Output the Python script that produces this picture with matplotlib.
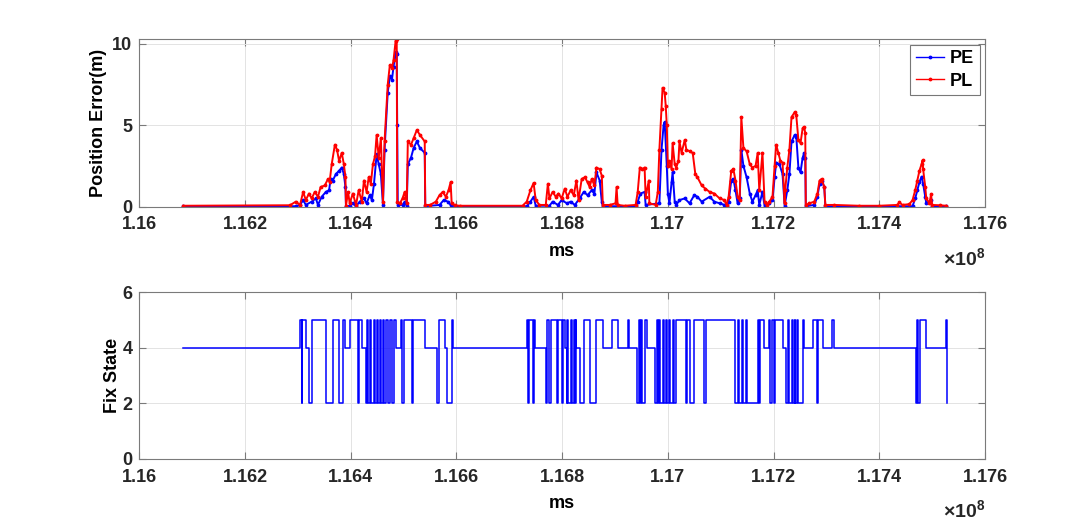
import matplotlib
matplotlib.use('Agg')
import matplotlib.pyplot as plt
import numpy as np
from matplotlib.ticker import FuncFormatter

plt.rcParams['font.family'] = ['Liberation Sans', 'DejaVu Sans']
plt.rcParams['font.weight'] = 'bold'
plt.rcParams['mathtext.fontset'] = 'custom'
plt.rcParams['mathtext.rm'] = 'Liberation Sans'
plt.rcParams['mathtext.bf'] = 'Liberation Sans:bold'

# time axis in units of 1e8 ms
pe_t = [1.16083, 1.16296, 1.16304, 1.16310, 1.16315, 1.16326, 1.16334, 1.16338,
        1.16345, 1.16353, 1.16359, 1.16362, 1.16366, 1.16372, 1.16378, 1.16383,
        1.16387, 1.16390, 1.16391, 1.16398, 1.16404, 1.16410, 1.16417, 1.16425,
        1.16430, 1.16436, 1.16440, 1.16444, 1.16449, 1.16453, 1.16457, 1.16461,
        1.16464, 1.16470, 1.16474, 1.16478, 1.16481, 1.16485, 1.16487, 1.16488,
        1.16489, 1.16498, 1.16502, 1.16506, 1.16508, 1.16514, 1.16519, 1.16525,
        1.16531, 1.16540, 1.16541, 1.16568, 1.16576, 1.16584, 1.16589, 1.16597,
        1.16733, 1.16740, 1.16746, 1.16750, 1.16776, 1.16782, 1.16792, 1.16799,
        1.16809, 1.16816, 1.16824, 1.16833, 1.16841, 1.16848, 1.16856, 1.16861,
        1.16865, 1.16871, 1.16875, 1.16877, 1.16939, 1.16943, 1.16948, 1.16956,
        1.16958, 1.16984, 1.16988, 1.16992, 1.16994, 1.16998, 1.17000, 1.17003,
        1.17007, 1.17009, 1.17013, 1.17016, 1.17022, 1.17032, 1.17041, 1.17050,
        1.17056, 1.17064, 1.17079, 1.17088, 1.17098, 1.17107, 1.17111, 1.17115,
        1.17120, 1.17124, 1.17128, 1.17132, 1.17136, 1.17139, 1.17143, 1.17149,
        1.17155, 1.17160, 1.17166, 1.17170, 1.17173, 1.17179, 1.17183, 1.17192,
        1.17198, 1.17202, 1.17205, 1.17211, 1.17217, 1.17221, 1.17226, 1.17230,
        1.17234, 1.17240, 1.17243, 1.17247, 1.17251, 1.17255, 1.17258, 1.17260,
        1.17261, 1.17277, 1.17283, 1.17287, 1.17291, 1.17296, 1.17298, 1.17463,
        1.17468, 1.17472, 1.17476, 1.17480, 1.17483, 1.17487, 1.17489, 1.17498,
        1.17500, 1.17527]
pe_v = [0.02, 0.02, 0.1, 0.4, 0.1, 0.3, 0.5, 0.1,
        0.6, 0.9, 1.0, 1.7, 1.6, 2.0, 2.2, 2.4,
        2.0, 1.2, 0.02, 0.05, 0.2, 0.02, 0.3, 0.5,
        0.2, 0.7, 0.4, 1.4, 3.2, 2.6, 2.0, 0.1,
        3.5, 7.0, 8.0, 7.8, 8.6, 9.5, 9.4, 5.0,
        0.1, 0.1, 0.3, 0.05, 2.6, 3.0, 3.6, 4.0,
        3.6, 3.3, 0.02, 0.1, 0.4, 0.3, 0.1, 0.02,
        0.02, 0.3, 0.6, 0.05, 0.05, 0.3, 0.1, 0.4,
        0.2, 0.3, 0.1, 0.5, 0.9, 0.7, 1.0, 0.8,
        2.1, 1.6, 0.3, 0.02, 0.02, 0.3, 0.8, 0.9,
        0.1, 0.2, 3.5, 5.0, 5.2, 2.5, 0.8, 0.2,
        1.5, 2.1, 0.3, 0.1, 0.4, 0.5, 0.2, 0.7,
        0.6, 0.3, 0.6, 0.3, 0.2, 0.1, 0.02, 0.3,
        1.6, 1.7, 1.0, 0.2, 0.5, 3.5, 2.5, 1.8,
        0.8, 0.3, 0.7, 1.0, 0.1, 0.9, 0.05, 0.2,
        0.4, 1.8, 2.7, 2.6, 2.0, 0.05, 1.0, 2.0,
        4.0, 4.4, 4.3, 2.4, 2.1, 3.0, 3.3, 3.0,
        0.02, 0.1, 0.6, 1.4, 1.6, 1.2, 0.02, 0.02,
        0.5, 1.0, 1.5, 1.84, 1.4, 0.6, 0.2, 0.4,
        0.02, 0.02]

pl_t = [1.16083, 1.16285, 1.16296, 1.16304, 1.16310, 1.16315, 1.16321, 1.16326,
        1.16332, 1.16338, 1.16343, 1.16351, 1.16357, 1.16360, 1.16364, 1.16370,
        1.16374, 1.16378, 1.16383, 1.16387, 1.16390, 1.16391, 1.16395, 1.16398,
        1.16404, 1.16410, 1.16415, 1.16421, 1.16425, 1.16430, 1.16434, 1.16438,
        1.16442, 1.16446, 1.16449, 1.16453, 1.16457, 1.16461, 1.16464, 1.16470,
        1.16474, 1.16478, 1.16481, 1.16485, 1.16487, 1.16488, 1.16493, 1.16498,
        1.16502, 1.16506, 1.16508, 1.16514, 1.16519, 1.16525, 1.16531, 1.16540,
        1.16541, 1.16550, 1.16561, 1.16568, 1.16574, 1.16580, 1.16585, 1.16589,
        1.16591, 1.16597, 1.16606, 1.16725, 1.16733, 1.16740, 1.16746, 1.16750,
        1.16757, 1.16769, 1.16773, 1.16776, 1.16782, 1.16788, 1.16793, 1.16799,
        1.16805, 1.16810, 1.16816, 1.16822, 1.16827, 1.16831, 1.16837, 1.16843,
        1.16848, 1.16852, 1.16856, 1.16861, 1.16865, 1.16871, 1.16875, 1.16877,
        1.16890, 1.16901, 1.16903, 1.16905, 1.16918, 1.16939, 1.16943, 1.16947,
        1.16952, 1.16956, 1.16958, 1.16964, 1.16965, 1.16977, 1.16981, 1.16984,
        1.16988, 1.16990, 1.16994, 1.16996, 1.16998, 1.17000, 1.17003, 1.17007,
        1.17009, 1.17013, 1.17016, 1.17020, 1.17022, 1.17026, 1.17032, 1.17035,
        1.17041, 1.17047, 1.17052, 1.17056, 1.17064, 1.17071, 1.17079, 1.17088,
        1.17098, 1.17107, 1.17111, 1.17115, 1.17120, 1.17124, 1.17128, 1.17132,
        1.17136, 1.17139, 1.17143, 1.17149, 1.17155, 1.17160, 1.17166, 1.17170,
        1.17173, 1.17179, 1.17183, 1.17187, 1.17192, 1.17198, 1.17202, 1.17205,
        1.17209, 1.17213, 1.17217, 1.17221, 1.17222, 1.17226, 1.17230, 1.17234,
        1.17240, 1.17243, 1.17247, 1.17251, 1.17255, 1.17258, 1.17260, 1.17261,
        1.17268, 1.17277, 1.17283, 1.17287, 1.17291, 1.17296, 1.17298, 1.17315,
        1.17362, 1.17400, 1.17434, 1.17438, 1.17444, 1.17457, 1.17463, 1.17468,
        1.17472, 1.17476, 1.17480, 1.17482, 1.17483, 1.17487, 1.17489, 1.17495,
        1.17498, 1.17500, 1.17514, 1.17527]
pl_v = [0.05, 0.08, 0.3, 0.1, 0.9, 0.4, 0.8, 0.5,
        0.9, 0.6, 1.2, 1.3, 1.7, 1.5, 2.6, 3.8,
        3.5, 2.8, 3.3, 2.6, 1.8, 0.05, 0.9, 0.2,
        0.8, 0.1, 1.0, 0.3, 1.6, 0.9, 1.8, 1.4,
        2.6, 3.1, 4.4, 3.0, 4.2, 0.3, 4.0, 7.5,
        8.7, 8.5, 9.0, 10.2, 10.29, 0.3, 0.2, 0.5,
        0.9, 0.2, 4.0, 3.8, 4.2, 4.7, 4.4, 4.0,
        0.1, 0.1, 0.3, 0.7, 0.9, 0.6, 1.0, 1.5,
        0.2, 0.08, 0.05, 0.05, 0.3, 1.0, 1.45, 0.4,
        0.1, 0.1, 1.4, 0.5, 0.9, 0.6, 0.8, 0.5,
        1.1, 0.6, 1.0, 0.7, 1.6, 0.4, 1.7, 1.8,
        1.5, 1.2, 1.7, 1.3, 2.4, 2.3, 1.9, 0.1,
        0.1, 0.2, 1.2, 0.1, 0.05, 0.1, 0.9, 2.4,
        2.3, 2.4, 0.6, 1.6, 0.2, 0.1, 0.9, 3.5,
        6.0, 7.3, 7.0, 6.2, 5.0, 2.5, 2.8, 2.3,
        3.9, 2.6, 2.4, 2.8, 4.0, 3.3, 4.1, 3.5,
        3.4, 3.3, 2.0, 1.8, 1.3, 1.1, 0.9, 0.8,
        0.5, 0.4, 0.1, 0.6, 2.2, 2.3, 1.6, 0.6,
        0.4, 5.5, 3.6, 3.4, 2.6, 2.4, 2.5, 3.3,
        1.0, 3.3, 0.3, 0.1, 0.3, 0.6, 2.5, 3.8,
        3.3, 2.8, 2.7, 0.2, 1.0, 2.4, 3.5, 5.5,
        5.8, 5.6, 4.1, 3.9, 4.8, 4.9, 4.5, 0.1,
        0.2, 0.3, 0.8, 1.6, 1.7, 1.2, 0.1, 0.1,
        0.05, 0.05, 0.1, 0.25, 0.1, 0.15, 0.4, 1.0,
        1.6, 2.2, 2.6, 2.85, 2.3, 1.2, 0.5, 0.2,
        0.75, 0.1, 0.08, 0.05]

# fix state changes (time in 1e8 ms, new state)
fix_t = [1.16083, 1.16304, 1.16307, 1.16308, 1.16315, 1.16321, 1.16326, 1.16353,
         1.16366, 1.16378, 1.16385, 1.16389, 1.16398, 1.16413, 1.16415, 1.16421,
         1.16429, 1.16430, 1.16432, 1.16436, 1.16438, 1.16444, 1.16446, 1.16449,
         1.16451, 1.16455, 1.16457, 1.16461, 1.16463, 1.16466, 1.16470, 1.16474,
         1.16478, 1.16481, 1.16485, 1.16495, 1.16497, 1.16500, 1.16516, 1.16517,
         1.16540, 1.16563, 1.16567, 1.16578, 1.16582, 1.16591, 1.16593, 1.16733,
         1.16735, 1.16737, 1.16744, 1.16746, 1.16748, 1.16769, 1.16771, 1.16776,
         1.16778, 1.16790, 1.16792, 1.16799, 1.16801, 1.16805, 1.16809, 1.16810,
         1.16812, 1.16816, 1.16818, 1.16822, 1.16824, 1.16826, 1.16827, 1.16833,
         1.16841, 1.16852, 1.16865, 1.16877, 1.16894, 1.16905, 1.16924, 1.16926,
         1.16941, 1.16945, 1.16947, 1.16950, 1.16952, 1.16956, 1.16960, 1.16975,
         1.16979, 1.16981, 1.16984, 1.16986, 1.16990, 1.16992, 1.16996, 1.16998,
         1.17003, 1.17005, 1.17009, 1.17011, 1.17016, 1.17035, 1.17037, 1.17041,
         1.17050, 1.17069, 1.17073, 1.17128, 1.17132, 1.17134, 1.17141, 1.17143,
         1.17147, 1.17149, 1.17170, 1.17173, 1.17175, 1.17181, 1.17192, 1.17194,
         1.17198, 1.17200, 1.17202, 1.17217, 1.17224, 1.17228, 1.17230, 1.17234,
         1.17236, 1.17240, 1.17241, 1.17245, 1.17247, 1.17255, 1.17258, 1.17274,
         1.17283, 1.17284, 1.17293, 1.17311, 1.17315, 1.17470, 1.17472, 1.17474,
         1.17478, 1.17489, 1.17527, 1.17528]
fix_v = [4, 5, 2, 5, 4, 2, 5, 2,
         5, 2, 5, 4, 5, 2, 5, 4,
         2, 5, 2, 5, 2, 5, 2, 5,
         2, 5, 2, 5, 2, 5, 2, 5,
         2, 5, 4, 5, 2, 5, 2, 5,
         4, 2, 5, 4, 2, 5, 4, 5,
         2, 5, 2, 5, 4, 2, 5, 2,
         5, 2, 5, 2, 5, 4, 2, 5,
         2, 5, 2, 5, 2, 5, 4, 2,
         5, 2, 5, 4, 5, 4, 5, 4,
         2, 5, 2, 5, 2, 5, 4, 2,
         5, 2, 5, 2, 5, 2, 5, 2,
         5, 2, 5, 2, 5, 2, 5, 2,
         5, 2, 5, 2, 5, 2, 5, 2,
         5, 2, 5, 2, 5, 4, 5, 2,
         5, 2, 5, 4, 2, 5, 2, 5,
         2, 5, 2, 5, 2, 5, 4, 5,
         2, 5, 4, 5, 4, 2, 5, 2,
         5, 4, 5, 2]

x_ticks = [1.16, 1.162, 1.164, 1.166, 1.168, 1.17, 1.172, 1.174, 1.176]
scale = 1e8

fig = plt.figure(figsize=(10.8, 5.31), dpi=100)
ax1 = fig.add_axes([0.129, 0.611, 0.783, 0.315])
ax2 = fig.add_axes([0.129, 0.136, 0.783, 0.314])

ax1.plot(np.array(pe_t) * scale, pe_v, color='b', lw=1.4, marker='.', ms=3.5, label='PE')
ax1.plot(np.array(pl_t) * scale, pl_v, color='r', lw=1.4, marker='.', ms=3.5, label='PL')
ax1.set_ylim(0, 10.28)
ax1.set_yticks([0, 5, 10])
ax1.set_ylabel('Position Error(m)', fontsize=13, fontweight='bold', labelpad=4)
leg = ax1.legend(loc='upper right', fontsize=13, handlelength=1.6, fancybox=False,
                 edgecolor='#555555', borderaxespad=0.3, handletextpad=0.3,
                 borderpad=0.3, labelspacing=0.3)
leg.get_frame().set_linewidth(0.8)
for h in leg.get_lines():
    h.set_linewidth(1.0)

ax2.step(np.array(fix_t) * scale, fix_v, where='post', color='b', lw=1.1)
ax2.set_ylim(0, 6)
ax2.set_yticks([0, 2, 4, 6])
ax2.set_ylabel('Fix State', fontsize=13, fontweight='bold', labelpad=1)

fmt = FuncFormatter(lambda v, p: '{:g}'.format(round(v / scale, 4)))
for ax in (ax1, ax2):
    ax.set_xlim(1.16 * scale, 1.176 * scale)
    ax.set_xticks([x * scale for x in x_ticks])
    ax.xaxis.set_major_formatter(fmt)
    ax.set_xlabel('ms', fontsize=13, fontweight='bold', labelpad=7)
    ax.grid(True, color='#e3e3e3', lw=0.7)
    ax.set_axisbelow(True)
    ax.tick_params(direction='in', length=5, width=0.8, color='#7a7a7a',
                   top=True, right=True, labelsize=13)
    ax.tick_params(axis='x', pad=7)
    ax.tick_params(axis='y', pad=5)
    for lab in ax.get_xticklabels() + ax.get_yticklabels():
        lab.set_fontweight('bold')
        lab.set_color('#262626')
    for s in ax.spines.values():
        s.set_color('#7a7a7a')
        s.set_linewidth(0.8)
    ax.text(1.0, -0.31, r'$\times\mathbf{10}^{\mathbf{8}}$', transform=ax.transAxes,
            ha='right', va='center', fontsize=14, color='#262626')

fig.savefig('out.png', dpi=100)
